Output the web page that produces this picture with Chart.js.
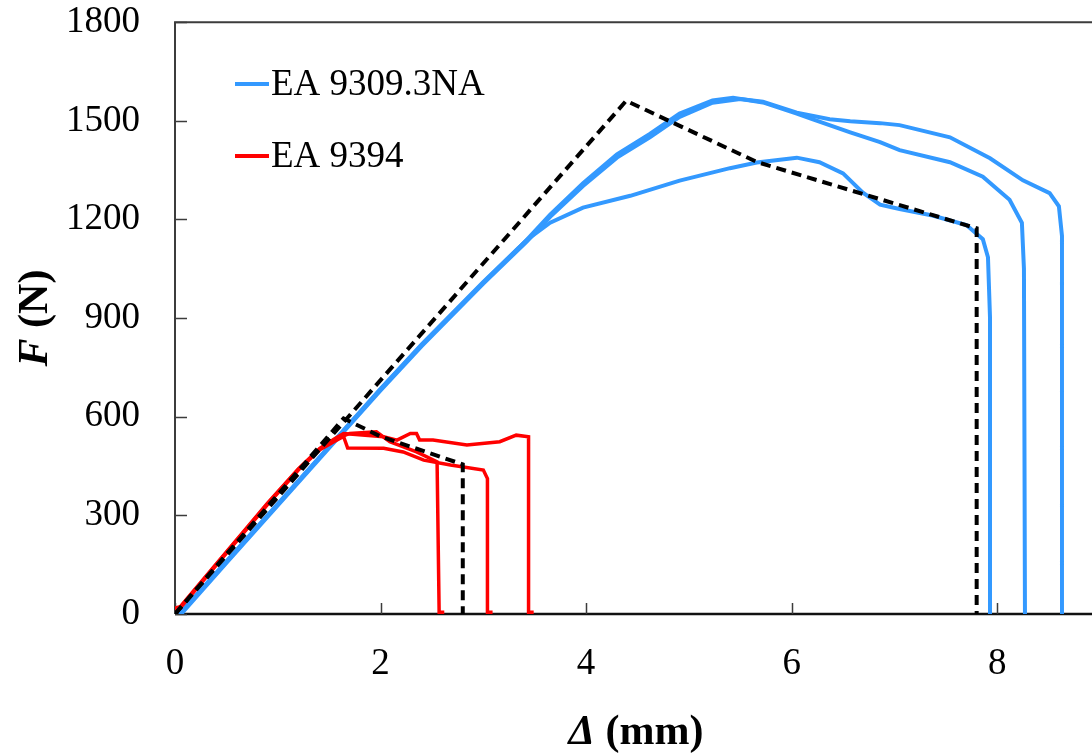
<!DOCTYPE html>
<html>
<head>
<meta charset="utf-8">
<title>F-Δ curves</title>
<script src="https://cdn.jsdelivr.net/npm/chart.js@4"></script>
<style>
  html, body { margin: 0; padding: 0; background: #fff; overflow: hidden; }
  #wrap { width: 1104px; height: 755px; }
</style>
</head>
<body>
<div id="wrap"><canvas id="chart" width="1104" height="755"></canvas></div>
<script>
/* ==========================================
   DATA  (displacement in mm, force in N)
========================================== */

const xTicks = [0, 2, 4, 6, 8];
const yTicks = [0, 300, 600, 900, 1200, 1500, 1800];

// EA 9309.3NA specimens
const ea9309a = [[0.04, 0], [0.5, 160], [1.0, 335], [1.5, 510], [2.0, 685], [2.4, 820], [3.0, 1010],
  [3.42, 1137], [3.65, 1190], [3.97, 1236], [4.43, 1272], [4.91, 1318], [5.4, 1356], [5.66, 1373],
  [6.05, 1388], [6.27, 1374], [6.5, 1340], [6.69, 1282], [6.86, 1245], [7.05, 1232], [7.37, 1212],
  [7.7, 1183], [7.86, 1140], [7.91, 1085], [7.93, 900], [7.93, 0]];

const ea9309b = [[0.05, 0], [0.5, 158], [1.0, 333], [1.5, 508], [2.0, 683], [2.4, 818], [3.0, 1008],
  [3.42, 1137], [3.65, 1215], [3.97, 1310], [4.3, 1398], [4.62, 1460], [4.91, 1522], [5.23, 1562],
  [5.43, 1570], [5.72, 1556], [6.05, 1522], [6.2, 1505], [6.57, 1465], [6.86, 1435], [7.05, 1411],
  [7.54, 1374], [7.86, 1330], [8.12, 1260], [8.24, 1190], [8.26, 1050], [8.27, 0]];

const ea9309c = [[0.06, 0], [0.5, 155], [1.0, 330], [1.5, 505], [2.0, 680], [2.4, 815], [3.0, 1005],
  [3.42, 1132], [3.65, 1208], [3.97, 1302], [4.3, 1388], [4.62, 1450], [4.91, 1512], [5.23, 1555],
  [5.5, 1566], [5.72, 1558], [6.05, 1525], [6.37, 1505], [6.57, 1499], [6.86, 1493], [7.05, 1487],
  [7.54, 1450], [7.93, 1386], [8.25, 1319], [8.51, 1280], [8.6, 1240], [8.63, 1150], [8.63, 0]];

// EA 9394 specimens
const ea9394a = [[0, 15], [0.05, 20], [0.4, 150], [0.9, 335], [1.2, 440], [1.41, 503], [1.55, 530],
  [1.7, 549], [1.96, 554], [2.09, 524], [2.35, 493], [2.55, 463], [2.57, 5], [2.62, 5]];

const ea9394b = [[0, 12], [0.05, 18], [0.4, 148], [0.9, 333], [1.2, 438], [1.41, 500], [1.55, 525],
  [1.64, 540], [1.68, 505], [2.03, 504], [2.22, 493], [2.42, 468], [2.68, 453], [3.0, 438],
  [3.04, 412], [3.04, 5], [3.09, 5]];

const ea9394c = [[0, 18], [0.05, 22], [0.4, 152], [0.9, 337], [1.2, 441], [1.41, 504], [1.55, 532],
  [1.64, 549], [2.03, 539], [2.16, 529], [2.29, 549], [2.35, 549], [2.38, 529], [2.51, 529],
  [2.84, 514], [3.16, 524], [3.32, 544], [3.44, 539], [3.44, 5], [3.49, 5]];

// model predictions
const model9309 = [[0, 0], [4.39, 1561], [5.66, 1375], [7.8, 1173], [7.8, 0]];
const model9394 = [[0, 0], [1.64, 595], [2.0, 540], [2.8, 455], [2.8, 0]];

/* ==========================================
   HELPERS
========================================== */

const BLUE = "#3399ff";
const RED = "#ff0000";
const SERIF = "'Liberation Serif', 'Times New Roman', serif";

const pts = (arr) => arr.map(([x, y]) => ({ x, y }));

const curve = (data, color, width, order) => ({
  data: pts(data),
  borderColor: color,
  borderWidth: width,
  showLine: true,
  pointRadius: 0,
  tension: 0,
  order
});

/* ==========================================
   FRAME, TICKS, TITLES, LEGEND
========================================== */

const frame = {
  id: "frame",
  beforeDatasetsDraw(chart) {
    const { ctx, chartArea: a, scales } = chart;
    ctx.save();
    ctx.strokeStyle = "#3c3c3c";
    ctx.lineWidth = 2;
    ctx.beginPath();
    ctx.moveTo(a.right + 2, a.top);
    ctx.lineTo(a.left, a.top);
    ctx.lineTo(a.left, a.bottom);
    ctx.stroke();

    ctx.strokeStyle = "#111";
    ctx.lineWidth = 2.5;
    ctx.beginPath();
    ctx.moveTo(a.left, a.bottom);
    ctx.lineTo(a.right + 2, a.bottom);
    ctx.stroke();

    // inward tick marks
    ctx.strokeStyle = "#3c3c3c";
    ctx.lineWidth = 1.5;
    ctx.beginPath();
    yTicks.forEach((v) => {
      const y = Math.round(scales.y.getPixelForValue(v)) + 0.5;
      ctx.moveTo(a.left, y);
      ctx.lineTo(a.left + 12, y);
    });
    xTicks.forEach((v) => {
      const x = Math.round(scales.x.getPixelForValue(v)) + 0.5;
      ctx.moveTo(x, a.bottom);
      ctx.lineTo(x, a.bottom - 11);
    });
    ctx.stroke();
    ctx.restore();
  },

  afterDraw(chart) {
    const { ctx } = chart;
    ctx.save();
    ctx.fillStyle = "#000";
    ctx.textBaseline = "middle";

    // mixed italic / upright title
    const title = (parts, cx, cy, rotate) => {
      ctx.save();
      ctx.translate(cx, cy);
      if (rotate) ctx.rotate(-Math.PI / 2);
      let total = 0;
      parts.forEach((p) => { ctx.font = p.font; total += ctx.measureText(p.text).width; });
      let x = -total / 2;
      ctx.textAlign = "left";
      parts.forEach((p) => {
        ctx.font = p.font;
        ctx.fillText(p.text, x, 0);
        x += ctx.measureText(p.text).width;
      });
      ctx.restore();
    };

    title([
      { text: "Δ", font: "italic bold 42px " + SERIF },
      { text: " (mm)", font: "bold 42px " + SERIF }
    ], 636, 733, false);

    title([
      { text: "F", font: "italic bold 42px " + SERIF },
      { text: " (N)", font: "bold 42px " + SERIF }
    ], 36, 318, true);

    // legend inside the plot
    const items = [
      { label: "EA 9309.3NA", color: BLUE, y: 84 },
      { label: "EA 9394", color: RED, y: 156 }
    ];
    ctx.font = "37px " + SERIF;
    ctx.textAlign = "left";
    items.forEach((it) => {
      ctx.strokeStyle = it.color;
      ctx.lineWidth = 4;
      ctx.beginPath();
      ctx.moveTo(235, it.y);
      ctx.lineTo(269, it.y);
      ctx.stroke();
      ctx.fillText(it.label, 271, it.y + 1);
    });
    ctx.restore();
  }
};

/* ==========================================
   CHART
========================================== */

new Chart(document.getElementById("chart"), {
  type: "scatter",

  data: {
    datasets: [
      curve(ea9309a, BLUE, 4, 3),
      curve(ea9309b, BLUE, 4, 3),
      curve(ea9309c, BLUE, 4, 3),
      curve(ea9394a, RED, 3.5, 2),
      curve(ea9394b, RED, 3.5, 2),
      curve(ea9394c, RED, 3.5, 2),
      Object.assign(curve(model9309, "#000", 4, 1), { borderDash: [10, 6] }),
      Object.assign(curve(model9394, "#000", 4, 1), { borderDash: [10, 6] })
    ]
  },

  options: {
    responsive: false,
    animation: false,
    layout: { padding: { top: 22, right: 4, left: 0, bottom: 0 } },

    plugins: {
      legend: { display: false },
      tooltip: { enabled: false }
    },

    // label offset comes from an invisible tick length, so no extra padding is reserved
    scales: {
      x: {
        type: "linear",
        min: 0,
        max: 9,
        afterBuildTicks: (s) => { s.ticks = xTicks.map((v) => ({ value: v })); },
        afterFit: (s) => { s.height = 141; },
        ticks: { color: "#000", font: { family: SERIF, size: 37 }, padding: 0, maxRotation: 0,
          callback: (v) => String(v) },
        grid: { drawOnChartArea: false, drawTicks: true, tickLength: 28, tickColor: "rgba(0,0,0,0)" },
        border: { display: false }
      },
      y: {
        min: 0,
        max: 1800,
        afterBuildTicks: (s) => { s.ticks = yTicks.map((v) => ({ value: v })); },
        afterFit: (s) => { s.width = 175; },
        ticks: { color: "#000", font: { family: SERIF, size: 37 }, padding: 0,
          callback: (v) => String(v) },
        grid: { drawOnChartArea: false, drawTicks: true, tickLength: 35, tickColor: "rgba(0,0,0,0)" },
        border: { display: false }
      }
    }
  },

  plugins: [frame]
});
</script>
</body>
</html>
